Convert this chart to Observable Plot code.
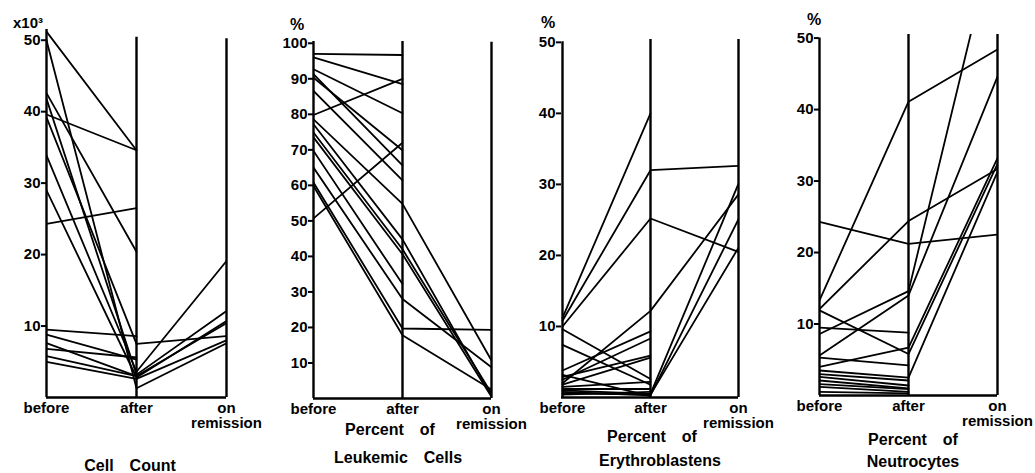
<!DOCTYPE html>
<html><head><meta charset="utf-8">
<script src="https://cdn.jsdelivr.net/npm/d3@7"></script>
<script src="https://cdn.jsdelivr.net/npm/@observablehq/plot@0.6"></script>
<style>
body{margin:0;background:#fff;font-family:"Liberation Sans",Arial,sans-serif;}
#root{position:relative;width:1035px;height:473px;overflow:hidden;background:#fff;}
.panel{position:absolute;top:0;}
.lbl{position:absolute;font-weight:bold;color:#000;white-space:nowrap;transform:translate(-50%,-50%);line-height:1;}
</style></head><body><div id="root"></div>
<script>
const stages = ["before", "after", "on remission"];

// Cell Count (x10^3)
const cellTicks = [10, 20, 30, 40, 50];
const cellBefore    = [51.2, 50.0, 42.6, 41.8, 39.6, 39.2, 33.9, 29.0, 24.3, 9.5, 8.8, 7.6, 6.8, 5.8, 5.0];
const cellAfter     = [34.6, 1.3, 20.4, 3.2, 34.6, 7.5, 3.6, 2.8, 26.5, 8.6, 5.3, 3.0, 5.6, 3.0, 2.6];
const cellRemission = [null, 7.6, null, 12.1, null, 8.6, 19.1, 10.7, null, null, null, 10.4, null, null, 8.0];

// Percent of Leukemic Cells
const leukTicks = [10, 20, 30, 40, 50, 60, 70, 80, 90, 100];
const leukBefore    = [97.0, 96.0, 92.7, 91.3, 90.3, 86.6, 79.8, 78.6, 77.2, 74.9, 73.5, 69.7, 65.0, 60.8, 59.8, 50.7];
const leukAfter     = [96.7, 88.5, 80.3, 65.6, 69.9, 61.4, 90.0, 54.8, 44.8, 42.0, 40.6, 32.2, 28.0, 19.7, 17.8, 72.0];
const leukRemission = [null, null, null, null, null, null, null, 10.7, 0.8, 1.5, 0.5, null, 8.8, 19.3, 2.5, null];

// Percent of Erythroblastens
const erythTicks = [10, 20, 30, 40, 50];
const erythBefore    = [11.2, 10.8, 10.0, 9.6, 7.4, 3.8, 2.5, 2.0, 2.9, 1.8, 1.5, 1.2, 1.0, 0.8, 0.6, 0.4, 3.2];
const erythAfter     = [40.0, 32.0, 25.2, 2.6, 1.8, 9.3, 8.3, 12.2, 5.9, 5.6, 2.2, 1.2, 0.5, 0.3, 0.4, 0.8, 0.2];
const erythRemission = [null, 32.6, 20.5, null, null, null, null, 28.6, null, null, null, null, 30.1, 25.1, 21.1, null, null];

// Percent of Neutrocytes
const neutTicks = [10, 20, 30, 40, 50];
const neutBefore    = [24.3, 13.3, 12.1, 11.9, 9.5, 8.6, 5.6, 5.3, 4.0, 3.5, 3.0, 2.6, 2.1, 1.6, 1.2, 0.5];
const neutAfter     = [21.2, 41.1, 24.4, 5.8, 8.8, 14.6, 14.0, 4.2, 6.7, 2.5, 2.1, 1.4, 1.0, 0.9, 0.5, 0.3];
const neutRemission = [22.5, 48.4, 31.7, 32.4, null, 66, 44.6, null, 33.2, 31.3, null, null, null, null, null, null];

const specs = [
  {before: cellBefore, after: cellAfter, remission: cellRemission, ticks: cellTicks,
   left: 0, width: 262, mL: 46, mR: 36, mT: 29, mB: 43, yMax: 51.5, axisTop: [51.5, 50.4, 50.2]},
  {before: leukBefore, after: leukAfter, remission: leukRemission, ticks: leukTicks,
   left: 262, width: 262, mL: 51, mR: 33, mT: 41, mB: 42, yMax: 100.5, axisTop: [100.5, 100.5, 100.3]},
  {before: erythBefore, after: erythAfter, remission: erythRemission, ticks: erythTicks,
   left: 524, width: 256, mL: 37, mR: 42, mT: 39, mB: 43, yMax: 50.4, axisTop: [50.1, 50.4, 50.4]},
  {before: neutBefore, after: neutAfter, remission: neutRemission, ticks: neutTicks,
   left: 780, width: 255, mL: 39, mR: 38, mT: 34, mB: 45, yMax: 50.5, axisTop: [50.0, 50.5, 50.5]}
];

const root = document.getElementById("root");
const H = 440;
const font = '"Liberation Sans", Arial, sans-serif';

for (const s of specs) {
  const rows = s.before.flatMap((b, i) => [
    {patient: i, stage: stages[0], value: b},
    {patient: i, stage: stages[1], value: s.after[i]},
    {patient: i, stage: stages[2], value: s.remission[i]}
  ]);
  const svg = Plot.plot({
    width: s.width, height: H,
    marginLeft: s.mL, marginRight: s.mR, marginTop: s.mT, marginBottom: s.mB,
    style: {background: "none", overflow: "visible", fontFamily: font, fontSize: "15px", fontWeight: "bold", color: "black"},
    x: {type: "point", domain: stages, padding: 0},
    y: {domain: [0, s.yMax]},
    marks: [
      Plot.line(rows, {x: "stage", y: "value", z: "patient", stroke: "black", strokeWidth: 1.8, clip: true}),
      Plot.ruleX(stages, {x: d => d, y1: 0, y2: (d, i) => s.axisTop[i], stroke: "black", strokeWidth: 2.4}),
      Plot.ruleY([0], {stroke: "black", strokeWidth: 2.4}),
      Plot.axisY({anchor: "left", ticks: s.ticks, tickSize: 5, tickPadding: 1, strokeWidth: 2,
                  fontSize: 15, fontWeight: "bold", label: null, tickFormat: d => String(d)}),
      Plot.axisX({anchor: "bottom", tickSize: 0, tickPadding: 5, fontSize: 15, fontWeight: "bold",
                  label: null, tickFormat: d => d === "on remission" ? "on\nremission" : d})
    ]
  });
  const div = document.createElement("div");
  div.className = "panel";
  div.style.left = s.left + "px";
  div.appendChild(svg);
  root.appendChild(div);
}

const labels = [
  {text: "x10³", x: 28, y: 22, size: 15},
  {text: "%", x: 297, y: 25, size: 16},
  {text: "%", x: 548, y: 23, size: 16},
  {text: "%", x: 814, y: 20, size: 16},
  {text: "Cell\u2003Count", x: 130, y: 466, size: 16},
  {text: "Percent\u2003of", x: 390, y: 430, size: 16},
  {text: "Leukemic\u2003Cells", x: 398, y: 458, size: 16},
  {text: "Percent\u2003of", x: 652, y: 437, size: 16},
  {text: "Erythroblastens", x: 660, y: 461, size: 16},
  {text: "Percent\u2003of", x: 913, y: 440, size: 16},
  {text: "Neutrocytes", x: 913, y: 462, size: 16}
];
for (const l of labels) {
  const d = document.createElement("div");
  d.className = "lbl";
  d.textContent = l.text;
  d.style.left = l.x + "px";
  d.style.top = l.y + "px";
  d.style.fontSize = l.size + "px";
  root.appendChild(d);
}
</script>
</body></html>
